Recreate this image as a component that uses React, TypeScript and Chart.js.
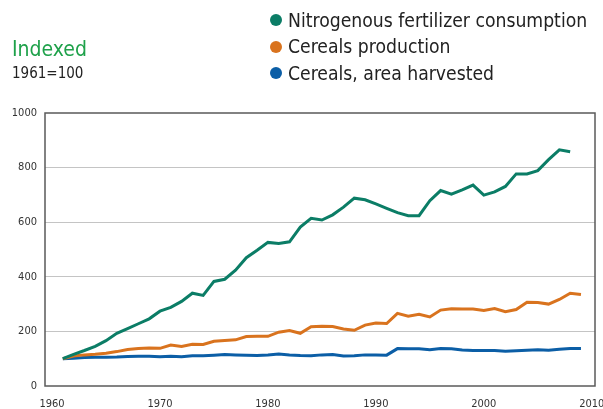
import React, { useEffect, useRef } from "react";
import { Chart, registerables } from "chart.js";

Chart.register(...registerables);

const years = [
  1961, 1962, 1963, 1964, 1965, 1966, 1967, 1968, 1969, 1970,
  1971, 1972, 1973, 1974, 1975, 1976, 1977, 1978, 1979, 1980,
  1981, 1982, 1983, 1984, 1985, 1986, 1987, 1988, 1989, 1990,
  1991, 1992, 1993, 1994, 1995, 1996, 1997, 1998, 1999, 2000,
  2001, 2002, 2003, 2004, 2005, 2006, 2007, 2008, 2009,
];

const nitrogen = [
  100, 116, 130, 145, 166, 193, 210, 228, 246, 274,
  288, 310, 340, 332, 383, 391, 424, 470, 497, 526,
  522, 528, 582, 614, 608, 627, 655, 688, 682, 667,
  651, 635, 624, 624, 679, 716, 703, 718, 736, 699,
  711, 731, 777, 777, 789, 829, 865, 858,
];

const cerealsProduction = [
  100, 110, 114, 116, 120, 126, 134, 137, 139, 138,
  150, 145, 153, 152, 164, 167, 169, 181, 182, 182,
  197, 203, 193, 217, 219, 218, 209, 204, 223, 231,
  229, 266, 256, 263, 253, 278, 283, 282, 282, 277,
  284, 272, 280, 307, 306, 300, 317, 340, 335,
];

const cerealsArea = [
  100, 102, 104, 105, 105, 106, 108, 109, 109, 107,
  109, 107, 111, 111, 113, 115, 114, 113, 112, 114,
  117, 114, 112, 111, 114, 115, 110, 111, 114, 114,
  113, 137, 136, 136, 133, 137, 136, 132, 130, 130,
  130, 127, 129, 131, 133, 131, 135, 137, 137,
];

const xTicks = [1960, 1970, 1980, 1990, 2000, 2010];
const yTicks = [0, 200, 400, 600, 800, 1000];

const seriesNames = [
  "Nitrogenous fertilizer consumption",
  "Cereals production",
  "Cereals, area harvested",
];
const seriesColors = ["#0b7d66", "#d9731e", "#0b5ea6"];

const FONT = "'Liberation Sans Narrow', 'DejaVu Sans Condensed', 'Roboto Condensed', sans-serif";

const toPoints = (vals: number[]) => vals.map((v, i) => ({ x: years[i], y: v }));

const frame = {
  id: "frame",
  afterDraw(chart: any) {
    const { ctx, chartArea } = chart;
    ctx.save();
    ctx.strokeStyle = "#5a5a5a";
    ctx.lineWidth = 1.5;
    ctx.strokeRect(chartArea.left, chartArea.top, chartArea.right - chartArea.left, chartArea.bottom - chartArea.top);
    ctx.restore();
  },
};

export default function App() {
  const ref = useRef<HTMLCanvasElement | null>(null);

  useEffect(() => {
    if (!ref.current) return;
    const chart = new Chart(ref.current, {
      type: "line",
      data: {
        datasets: [nitrogen, cerealsProduction, cerealsArea].map((vals, i) => ({
          label: seriesNames[i],
          data: toPoints(vals),
          borderColor: seriesColors[i],
          backgroundColor: seriesColors[i],
          borderWidth: 3,
          pointRadius: 0,
          tension: 0,
          fill: false,
        })),
      },
      options: {
        animation: false,
        responsive: false,
        maintainAspectRatio: false,
        layout: { padding: { left: 0, top: 113, right: 8, bottom: 0 } },
        plugins: { legend: { display: false }, tooltip: { enabled: false } },
        scales: {
          x: {
            type: "linear",
            min: 1959.35,
            max: 2010.3,
            afterBuildTicks: (s: any) => {
              s.ticks = xTicks.map((v) => ({ value: v }));
            },
            afterFit: (s: any) => {
              s.height = 23;
              s.paddingLeft = 0;
              s.paddingRight = 0;
            },
            grid: { display: false, drawTicks: false },
            border: { display: false },
            ticks: {
              padding: 12,
              maxRotation: 0,
              autoSkip: false,
              color: "#333",
              font: { family: FONT, size: 11 },
              callback: (v: any) => String(v),
            },
          },
          y: {
            min: 0,
            max: 1000,
            afterBuildTicks: (s: any) => {
              s.ticks = yTicks.map((v) => ({ value: v }));
            },
            afterFit: (s: any) => {
              s.width = 45;
              s.paddingTop = 0;
              s.paddingBottom = 0;
            },
            grid: {
              color: (c: any) => (c.tick && (c.tick.value === 0 || c.tick.value === 1000) ? "rgba(0,0,0,0)" : "#c4c4c4"),
              lineWidth: 1,
              drawTicks: false,
            },
            border: { display: false },
            ticks: {
              padding: 8,
              color: "#333",
              font: { family: FONT, size: 11 },
              callback: (v: any) => String(v),
            },
          },
        },
      },
      plugins: [frame],
    });
    return () => chart.destroy();
  }, []);

  return (
    <div style={{ position: "absolute", left: 0, top: 0, width: 603, height: 409, background: "#fff", fontFamily: FONT }}>
      <canvas ref={ref} width={603} height={409} style={{ position: "absolute", left: 0, top: 0 }} />
      <div style={{ position: "absolute", left: 12, top: 37, fontSize: 21, color: "#1ea14a", lineHeight: "24px" }}>Indexed</div>
      <div style={{ position: "absolute", left: 12, top: 64, fontSize: 15, color: "#222", lineHeight: "18px" }}>1961=100</div>
      {seriesNames.map((name, i) => (
        <div
          key={name}
          style={{ position: "absolute", left: 270, top: 8 + i * 26.5, height: 24, display: "flex", alignItems: "center", fontSize: 19.2, color: "#222" }}
        >
          <span style={{ display: "inline-block", width: 12, height: 12, borderRadius: 6, background: seriesColors[i], marginRight: 6 }} />
          <span>{name}</span>
        </div>
      ))}
    </div>
  );
}
